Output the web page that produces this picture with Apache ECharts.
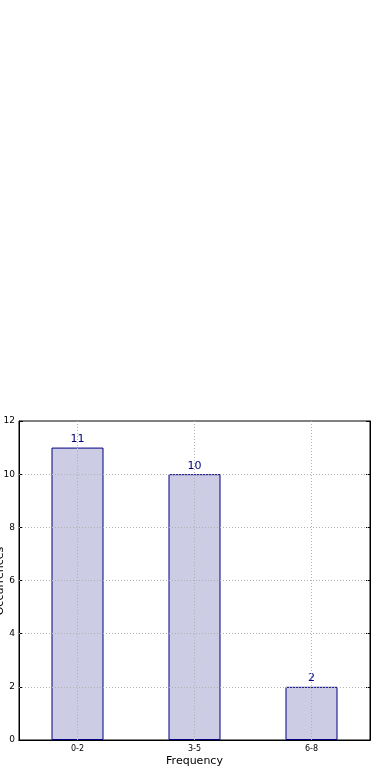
<!DOCTYPE html>
<html><head><meta charset="utf-8">
<script src="https://cdn.jsdelivr.net/npm/echarts@6/dist/echarts.min.js"></script>
<style>html,body{margin:0;padding:0;background:#fff}#c{width:390px;height:780px}</style>
</head><body><div id="c"></div>
<script>
const categories = ['0-2', '3-5', '6-8'];
const counts = [11, 10, 2];
const yTicks = [0, 2, 4, 6, 8, 10, 12];
const xName = 'Frequency';
const yName = 'Occurrences';

const chart = echarts.init(document.getElementById('c'));
const font = 'DejaVu Sans';
const gridStyle = {color: '#b0b0b0', type: [1, 2], width: 1};
chart.setOption({
  animation: false,
  grid: {left: 19, right: 20, top: 421, bottom: 40, show: true, borderColor: '#000', borderWidth: 1,
         backgroundColor: 'transparent', containLabel: false, outerBoundsMode: 'none'},
  graphic: [{
    type: 'text', rotation: Math.PI / 2, x: 0, y: 581,
    style: {text: yName, font: '11px "DejaVu Sans"', fill: '#000', align: 'center', verticalAlign: 'middle'}
  }],
  xAxis: [{
    type: 'category', data: categories, position: 'bottom',
    axisLine: {lineStyle: {color: '#000'}},
    axisTick: {inside: true, alignWithLabel: true, length: 4, lineStyle: {color: '#000'}},
    axisLabel: {fontFamily: font, fontSize: 8, color: '#000', margin: 5},
    splitLine: {show: false},
    name: xName, nameLocation: 'middle', nameGap: 16,
    nameTextStyle: {fontFamily: font, fontSize: 11, color: '#000'}
  }, {
    type: 'category', data: categories, position: 'top',
    axisLine: {lineStyle: {color: '#000'}},
    axisTick: {inside: true, alignWithLabel: true, length: 4, lineStyle: {color: '#000'}},
    axisLabel: {show: false}, splitLine: {show: false}
  }],
  yAxis: [{
    type: 'value', min: 0, max: 12, interval: 2, position: 'left',
    axisLine: {show: true, lineStyle: {color: '#000'}},
    axisTick: {show: true, inside: true, length: 4, lineStyle: {color: '#000'}},
    axisLabel: {fontFamily: font, fontSize: 9, color: '#000', margin: 4},
    splitLine: {show: false}
  }, {
    type: 'value', min: 0, max: 12, interval: 2, position: 'right',
    axisLine: {show: true, lineStyle: {color: '#000'}},
    axisTick: {show: true, inside: true, length: 4, lineStyle: {color: '#000'}},
    axisLabel: {show: false}, splitLine: {show: false}
  }],
  series: [{
    type: 'bar', data: counts, barWidth: 52,
    itemStyle: {color: '#ccccE5', borderColor: '#000080', borderWidth: 1},
    label: {show: true, position: 'top', distance: 3, fontFamily: font, fontSize: 11, color: '#000080'},
    markLine: {
      silent: true, symbol: 'none', label: {show: false},
      lineStyle: gridStyle,
      data: categories.map(c => ({xAxis: c})).concat(yTicks.slice(1, -1).map(v => ({yAxis: v})))
    }
  }]
});
</script></body></html>
